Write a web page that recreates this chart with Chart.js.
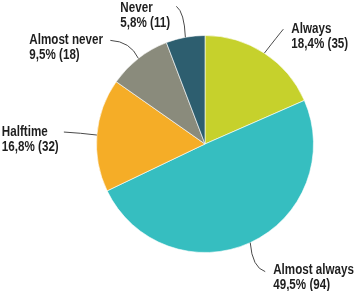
<!DOCTYPE html>
<html>
<head>
<meta charset="utf-8">
<script src="https://cdn.jsdelivr.net/npm/chart.js@4"></script>
<style>
html,body{margin:0;padding:0;background:#fff;}
#wrap{width:359px;height:291px;position:relative;}
</style>
</head>
<body>
<div id="wrap"><canvas id="c" width="359" height="291"></canvas></div>
<script>
const categories = ["Always", "Almost always", "Halftime", "Almost never", "Never"];
const counts = [35, 94, 32, 18, 11];
const percentLabels = ["18,4% (35)", "49,5% (94)", "16,8% (32)", "9,5% (18)", "5,8% (11)"];
const colors = ["#c6d12c", "#36bec0", "#f5ad27", "#8a8b7c", "#2d5e6f"];

// label placement relative to the slice's outer edge point (mid-angle)
const labelLayout = [
  {end:[19,-24], ctrl:[14,-18], text:[27,-24]},
  {end:[15,29], ctrl:[2,25], text:[23,28]},
  {end:[-33,-3], ctrl:[-16,-2], text:[-95,-3]},
  {end:[-28,-18], ctrl:[-8,-17], text:[-109,-18]},
  {end:[-9,-31], ctrl:[-1,-25], text:[-65,-29]}
];

const FONT = "bold 14px 'Liberation Sans', Arial, sans-serif";
const SQUEEZE = 0.83;

const labelPlugin = {
  id: 'outerLabels',
  afterDatasetsDraw(chart) {
    const ctx = chart.ctx;
    const meta = chart.getDatasetMeta(0);
    meta.data.forEach((arc, i) => {
      const p = arc.getProps(['x','y','startAngle','endAngle','outerRadius'], true);
      const mid = (p.startAngle + p.endAngle) / 2;
      const sx = p.x + Math.cos(mid) * p.outerRadius;
      const sy = p.y + Math.sin(mid) * p.outerRadius;
      const L = labelLayout[i];
      ctx.save();
      ctx.strokeStyle = '#4a4a4a';
      ctx.lineWidth = 1;
      ctx.beginPath();
      ctx.moveTo(sx, sy);
      ctx.quadraticCurveTo(sx + L.ctrl[0], sy + L.ctrl[1], sx + L.end[0], sy + L.end[1]);
      ctx.stroke();
      ctx.fillStyle = '#1e1e1e';
      ctx.font = FONT;
      ctx.textAlign = 'left';
      ctx.textBaseline = 'middle';
      const tx = sx + L.text[0], ty = sy + L.text[1];
      ctx.translate(tx, ty);
      ctx.scale(SQUEEZE, 1);
      ctx.fillText(categories[i], 0, 0);
      ctx.fillText(percentLabels[i], 0, 15);
      ctx.restore();
    });
  }
};

new Chart(document.getElementById('c'), {
  type: 'pie',
  data: {
    labels: categories,
    datasets: [{
      data: counts,
      backgroundColor: colors,
      borderColor: 'rgba(255,255,255,0.6)',
      borderWidth: 1
    }]
  },
  options: {
    responsive: false,
    animation: false,
    devicePixelRatio: 1,
    layout: { padding: { left: 96, right: 45, top: 35, bottom: 38 } },
    plugins: { legend: { display: false }, tooltip: { enabled: false } }
  },
  plugins: [labelPlugin]
});
</script>
</body>
</html>
